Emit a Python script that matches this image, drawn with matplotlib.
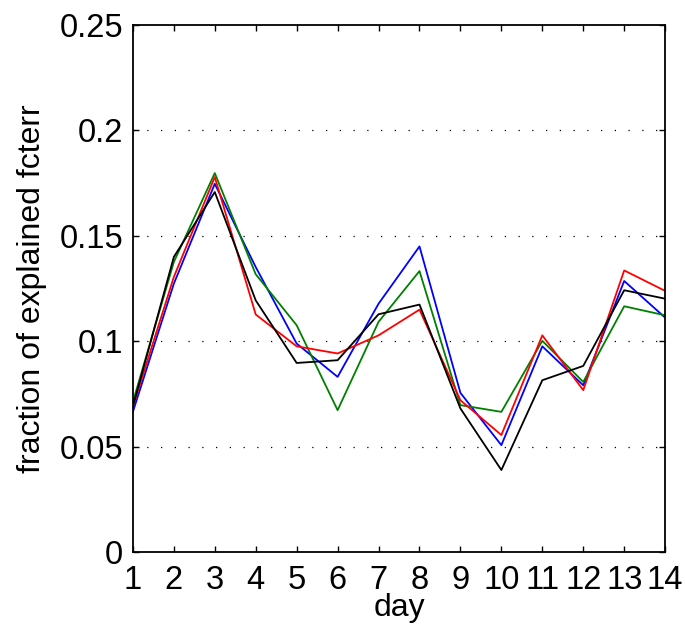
import matplotlib
matplotlib.use('Agg')
import matplotlib.pyplot as plt
import numpy as np

days = np.arange(1, 15)
blue = [0.0665, 0.1273, 0.1747, 0.1352, 0.0989, 0.0831, 0.1178, 0.1450,
        0.0755, 0.0507, 0.0976, 0.0791, 0.1286, 0.1112]
green = [0.0712, 0.1376, 0.1798, 0.1318, 0.1076, 0.0673, 0.1092, 0.1333,
         0.0697, 0.0665, 0.1002, 0.0807, 0.1166, 0.1123]
red = [0.0689, 0.1305, 0.1779, 0.1127, 0.0976, 0.0942, 0.1028, 0.1150,
       0.0720, 0.0555, 0.1028, 0.0768, 0.1336, 0.1239]
black = [0.0690, 0.1400, 0.1708, 0.1194, 0.0897, 0.0910, 0.1128, 0.1174,
         0.0681, 0.0389, 0.0815, 0.0883, 0.1242, 0.1202]
yticks = [0, 0.05, 0.1, 0.15, 0.2, 0.25]
yticklabels = ['0', '0.05', '0.1', '0.15', '0.2', '0.25']

plt.rcParams['font.family'] = ['Liberation Sans', 'DejaVu Sans']

fig = plt.figure(figsize=(6.85, 6.28), dpi=100)
ax = fig.add_axes([0.194, 0.121, 0.777, 0.839])

for y in yticks[1:-1]:
    ax.axhline(y, color='black', lw=0.9, linestyle=(0, (1, 10)), zorder=0)

ax.plot(days, blue, color='#0000ff', lw=1.3)
ax.plot(days, green, color='#008000', lw=1.3)
ax.plot(days, red, color='#ff0000', lw=1.3)
ax.plot(days, black, color='black', lw=1.3)

ax.set_xlim(1, 14)
ax.set_ylim(0, 0.25)
ax.set_xticks(days)
ax.set_yticks(yticks)
ax.set_yticklabels(yticklabels)
ax.tick_params(direction='in', top=True, right=True, labelsize=23.5, length=4, width=1)
ax.tick_params(axis='x', pad=9)
ax.tick_params(axis='y', pad=7)
for s in ax.spines.values():
    s.set_linewidth(1.3)

ax.set_xlabel('day', fontsize=23, labelpad=-2)
ax.set_ylabel('fraction of explained fcterr', fontsize=23, labelpad=9)

fig.savefig('out.png', dpi=100)
